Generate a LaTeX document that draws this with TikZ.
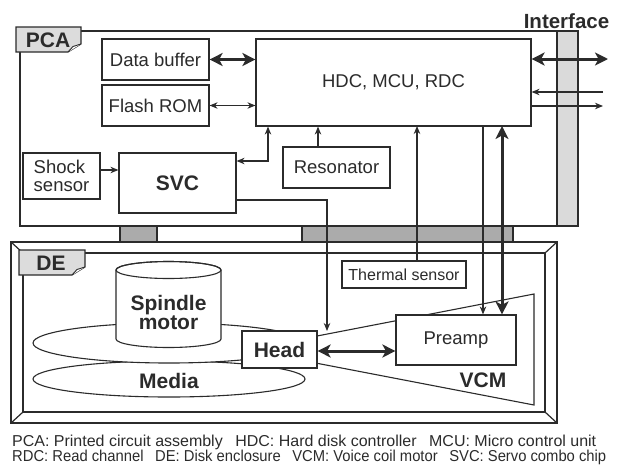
\documentclass[tikz,border=0pt]{standalone}
\usepackage{graphicx}
\usepackage{fontspec}
\setmainfont{Liberation Sans}
\usetikzlibrary{arrows.meta}
\definecolor{ln}{HTML}{2B2B2B}
\definecolor{tabgray}{HTML}{DCDCDC}
\definecolor{bargray}{HTML}{ABABAB}
\definecolor{ifgray}{HTML}{DADADA}
\tikzset{
  box/.style={draw=ln, fill=white, line width=1.2pt, inner sep=0pt, text=ln, font=\fontsize{18.5}{21}\selectfont},
  bbox/.style={box, font=\fontsize{21}{23}\selectfont\bfseries},
  lbl/.style={inner sep=0pt, text=ln, font=\fontsize{21}{22}\selectfont\bfseries},
  foot/.style={inner sep=0pt, anchor=base west, text=ln, font=\fontsize{15.8}{17}\selectfont},
  frame/.style={draw=ln, line width=1.2pt},
  tabshape/.style={draw=ln, fill=tabgray, line width=1.1pt},
  thinln/.style={draw=ln, line width=1.1pt},
  tarr/.style={thinln, -{Stealth[length=8pt,width=6.5pt]}},
  tdarr/.style={thinln, {Stealth[length=8pt,width=6.5pt]}-{Stealth[length=8pt,width=6.5pt]}},
  kdarr/.style={draw=ln, line width=3pt, {Stealth[length=13pt,width=13pt,inset=3.5pt]}-{Stealth[length=13pt,width=13pt,inset=3.5pt]}}
}
\begin{document}
\begin{tikzpicture}[x=1pt,y=-1pt]
\useasboundingbox (0,0) rectangle (620,469);
% PCA board
\draw[frame] (20,31) rectangle (557,226);
\draw[frame, fill=ifgray] (557,31) rectangle (578,226);
% connectors between PCA and DE
\draw[frame, fill=bargray] (120,226) rectangle (157,242);
\draw[frame, fill=bargray] (302,226) rectangle (513,242);
% DE frame
\draw[frame, fill=white] (11,242) rectangle (557,423);
\draw[frame] (23,253) rectangle (545,412);
\draw[frame] (11,242) -- (23,253) (557,242) -- (545,253) (11,423) -- (23,412) (557,423) -- (545,412);
% tabs
\draw[tabshape] (16,27) -- (81,27) -- (81,44) -- (68,52) -- (16,52) -- cycle;
\draw[draw=ln, fill=white, line width=0.9pt] (81,44) -- (73,46.5) -- (68,52);
\node[lbl] (pcalbl) at (48,40) {PCA};
\draw[tabshape] (19,250) -- (85,250) -- (85,267) -- (72,275) -- (19,275) -- cycle;
\draw[draw=ln, fill=white, line width=0.9pt] (85,267) -- (77,269.5) -- (72,275);
\node[lbl] (delbl) at (51,263) {DE};
\node[lbl, font=\fontsize{20.5}{22}\selectfont\bfseries] (iflbl) at (566.5,21.5) {Interface};
% media
\draw[thinln, fill=white] (169,379) ellipse[x radius=136pt, y radius=18pt];
\draw[thinln, fill=white] (169,343) ellipse[x radius=136pt, y radius=20pt];
\node[lbl] (medialbl) at (169,381) {Media};
% spindle motor
\draw[thinln, fill=white] (116,270) -- (116,339) arc[start angle=180, end angle=360, x radius=52.5pt, y radius=8.5pt] -- (221,270) arc[start angle=0, end angle=180, x radius=52.5pt, y radius=8.5pt] -- cycle;
\draw[thinln] (168.5,270) ellipse[x radius=52.5pt, y radius=8.5pt];
\node[lbl, align=center, font=\fontsize{21}{19}\selectfont\bfseries] (spindle) at (168.5,312) {Spindle\\motor};
% VCM wedge
\draw[thinln, fill=white] (300,339.3) -- (534,294) -- (534,405) -- (300,360) -- cycle;
\node[lbl] (vcmlbl) at (483,380) {VCM};
% boxes
\node[box, minimum width=107pt, minimum height=41pt] (databuf) at (155.5,59.5) {Data buffer};
\node[box, minimum width=107pt, minimum height=41pt] (flash) at (155.5,105.5) {Flash ROM};
\node[box, minimum width=275pt, minimum height=87pt] (hdc) at (393.5,82.5) {HDC, MCU, RDC};
\node[box, minimum width=77pt, minimum height=46pt, align=left, font=\fontsize{18.5}{18.5}\selectfont] (shock) at (61.5,176) {Shock\\sensor};
\node[bbox, minimum width=117pt, minimum height=60pt] (svc) at (177.5,183) {SVC};
\node[box, minimum width=107pt, minimum height=41pt] (reson) at (336.5,167.5) {Resonator};
\node[box, minimum width=124pt, minimum height=27pt, font=\fontsize{16}{18}\selectfont] (thermal) at (404,274.5) {Thermal sensor};
\node[bbox, minimum width=75pt, minimum height=37pt] (head) at (279.5,349.5) {Head};
\node[box, minimum width=120pt, minimum height=50pt] (preamp) at (456,340) {Preamp};
% helper coordinates
\coordinate (ka) at (268,161);
\coordinate (kb) at (318,147);
\coordinate (kc) at (327,200);
\coordinate (kd) at (327,331);
\coordinate (ke) at (417,126);
\coordinate (kf) at (483,126);
\coordinate (kg) at (502,126);
\coordinate (kh) at (0,351);
\coordinate (ki) at (0,170);
\coordinate (ifa) at (608,59);
\coordinate (ifb) at (603,92);
\coordinate (ifc) at (603,106);
% connectors
\draw[kdarr] (databuf.east) -- (databuf.east -| hdc.west);
\draw[tdarr] (flash.east) -- (flash.east -| hdc.west);
\draw[tarr] (shock.east |- ki) -- (svc.west |- ki);
\draw[tdarr] (svc.east |- ka) -| (ka |- hdc.south);
\draw[tarr] (kb |- reson.north) -- (kb |- hdc.south);
\draw[tarr] (svc.east |- kc) -- (kc) -- (kd);
\draw[tarr] (ke |- thermal.north) -- (ke);
\draw[tarr] (kf) -- (kf |- preamp.north);
\draw[kdarr] (kg) -- (kg |- preamp.north);
\draw[kdarr] (head.east |- kh) -- (preamp.west |- kh);
\draw[kdarr] (hdc.east |- ifa) -- (ifa);
\draw[tarr] (ifb) -- (hdc.east |- ifb);
\draw[tarr] (hdc.east |- ifc) -- (ifc);
% footer
\node[foot] (f1) at (12,446) {\resizebox{584pt}{\height}{PCA: Printed circuit assembly\hspace{8pt} HDC: Hard disk controller\hspace{8pt} MCU: Micro control unit}};
\node[foot] (f2) at (12,461.5) {\resizebox{594pt}{\height}{RDC: Read channel\hspace{8pt} DE: Disk enclosure\hspace{8pt} VCM: Voice coil motor\hspace{8pt} SVC: Servo combo chip}};
\end{tikzpicture}
\end{document}
